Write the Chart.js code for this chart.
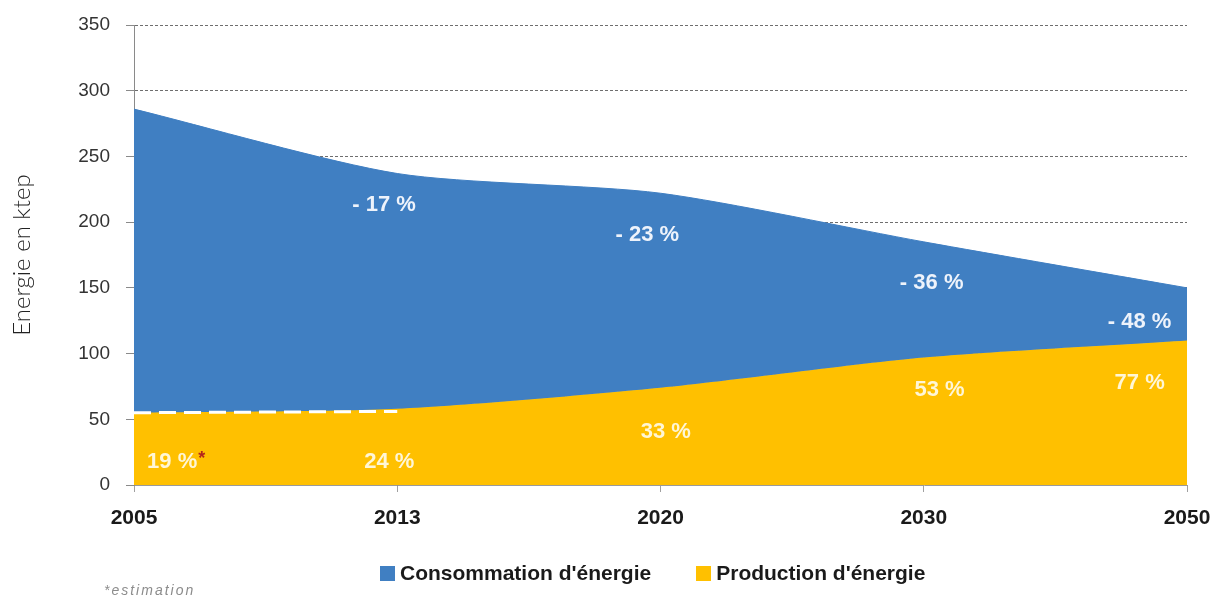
<!DOCTYPE html>
<html lang="fr">
<head>
    <meta charset="UTF-8">
    <title>Consommation et production d'énergie</title>
    <style>
        body {
            margin: 0;
            background: #ffffff;
        }
        .wrap {
            position: relative;
            width: 1212px;
            height: 599px;
        }
        .note {
            position: absolute;
            left: 104px;
            top: 582px;
            font: italic 14px "Liberation Sans", Arial, sans-serif;
            letter-spacing: 2px;
            color: #8c8c8c;
        }
        .legend {
            position: absolute;
            left: 380px;
            top: 561px;
            display: flex;
            gap: 45px;
            font: bold 21px "Liberation Sans", Arial, sans-serif;
            color: #1a1a1a;
            white-space: nowrap;
        }
        .legend span {
            display: flex;
            align-items: center;
        }
        .legend i {
            display: inline-block;
            width: 15px;
            height: 15px;
            margin-right: 5px;
        }
    </style>
</head>
<body>
    <div class="wrap">
        <canvas id="energyChart"></canvas>
        <div class="legend" id="legend"></div>
        <div class="note">*estimation</div>
    </div>

    <script src="https://cdn.jsdelivr.net/npm/chart.js"></script>
    <script>
        // values (ktep)
        const years = ['2005', '2013', '2020', '2030', '2050'];
        const consommation = [286, 237, 222, 185, 150];
        const production = [55, 58, 74, 97, 110];
        const estimation = [55, 56, null, null, null];

        const consLabels = ['- 17 %', '- 23 %', '- 36 %', '- 48 %'];
        const prodLabels = ['19 %', '24 %', '33 %', '53 %', '77 %'];

        // where the percentages sit: [category index, value]
        const consSpots = [[0.95, 213], [1.95, 190], [3.03, 154], [3.82, 124]];
        const prodSpots = [[0.145, 17.5], [0.97, 17.5], [2.02, 40], [3.06, 72], [3.82, 78]];

        const BLUE = '#407fc2';
        const YELLOW = '#ffc000';
        const FONT = '"Liberation Sans", Arial, sans-serif';

        const areaLabels = {
            id: 'areaLabels',
            afterDatasetsDraw(chart) {
                const { ctx, scales: { x, y } } = chart;
                ctx.save();
                ctx.font = 'bold 22px ' + FONT;
                ctx.textAlign = 'center';
                ctx.textBaseline = 'middle';

                ctx.fillStyle = '#eef3fb';
                consLabels.forEach((txt, i) => {
                    const [ix, v] = consSpots[i];
                    ctx.fillText(txt, x.getPixelForValue(ix), y.getPixelForValue(v));
                });

                ctx.fillStyle = '#fff6d6';
                prodLabels.forEach((txt, i) => {
                    const [ix, v] = prodSpots[i];
                    ctx.fillText(txt, x.getPixelForValue(ix), y.getPixelForValue(v));
                });

                // red asterisk after the estimated share
                const [ix0, v0] = prodSpots[0];
                const w = ctx.measureText(prodLabels[0]).width;
                ctx.fillStyle = '#b3261e';
                ctx.font = 'bold 18px ' + FONT;
                ctx.textAlign = 'left';
                ctx.fillText('*', x.getPixelForValue(ix0) + w / 2 + 1, y.getPixelForValue(v0) - 3);
                ctx.restore();
            }
        };

        const ctx = document.getElementById('energyChart').getContext('2d');
        const chart = new Chart(ctx, {
            type: 'line',
            data: {
                labels: years,
                datasets: [{
                    label: "Consommation d'énergie",
                    data: consommation,
                    borderColor: BLUE,
                    backgroundColor: BLUE,
                    borderWidth: 1,
                    fill: 1,
                    tension: 0.25,
                    pointRadius: 0
                }, {
                    label: "Production d'énergie",
                    data: production,
                    borderColor: YELLOW,
                    backgroundColor: YELLOW,
                    borderWidth: 1,
                    fill: 'origin',
                    tension: 0.25,
                    pointRadius: 0
                }, {
                    label: 'estimation',
                    data: estimation,
                    borderColor: '#ffffff',
                    borderWidth: 3,
                    borderDash: [17, 8],
                    fill: false,
                    pointRadius: 0,
                    order: -1
                }]
            },
            options: {
                responsive: true,
                maintainAspectRatio: false,
                animation: false,
                layout: {
                    padding: { top: 25, right: 25, left: 0, bottom: 0 }
                },
                plugins: {
                    tooltip: { enabled: false },
                    legend: { display: false }
                },
                scales: {
                    x: {
                        offset: false,
                        grid: {
                            drawOnChartArea: false,
                            drawTicks: true,
                            tickLength: 7,
                            color: '#a0a0a0'
                        },
                        border: { color: '#9a9a9a', width: 1 },
                        ticks: {
                            padding: 14,
                            color: '#1a1a1a',
                            maxRotation: 0,
                            font: { family: FONT, size: 21, weight: 'bold' }
                        },
                        afterFit: scale => {
                            scale.height = 114;
                            scale.paddingLeft = 0;
                            scale.paddingRight = 0;
                        }
                    },
                    y: {
                        min: 0,
                        max: 350,
                        ticks: {
                            stepSize: 50,
                            padding: 16,
                            color: '#333333',
                            font: { family: FONT, size: 19 }
                        },
                        grid: {
                            color: '#6e6e6e',
                            tickLength: 8,
                            tickColor: '#8a8a8a',
                            tickBorderDash: []
                        },
                        border: { color: '#8a8a8a', width: 1, dash: [3, 2] },
                        title: {
                            display: true,
                            text: 'Energie en ktep',
                            color: '#222222',
                            padding: { top: 8, bottom: 0 },
                            font: { family: 'Lato, "Open Sans", sans-serif', size: 24, weight: 300 }
                        },
                        afterFit: scale => {
                            scale.width = 134;
                            scale.paddingTop = 0;
                            scale.paddingBottom = 0;
                        }
                    }
                }
            },
            plugins: [areaLabels]
        });

        // HTML legend built from the chart's own datasets
        const legendEl = document.getElementById('legend');
        chart.data.datasets.slice(0, 2).forEach(ds => {
            const item = document.createElement('span');
            const box = document.createElement('i');
            box.style.background = ds.backgroundColor;
            item.appendChild(box);
            item.appendChild(document.createTextNode(ds.label));
            legendEl.appendChild(item);
        });
    </script>
</body>
</html>
